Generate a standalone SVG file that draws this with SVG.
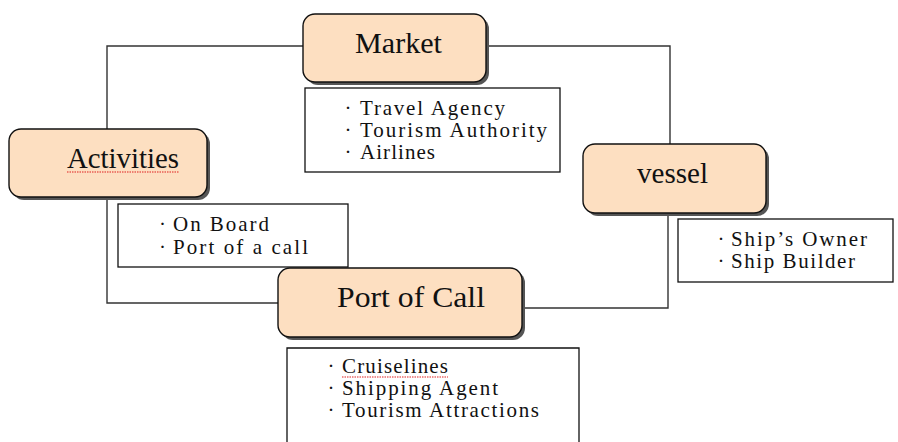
<svg xmlns="http://www.w3.org/2000/svg" width="898" height="442" viewBox="0 0 898 442">
<style>
.node{fill:#FDDFC1;stroke:#111;stroke-width:1.4}
.shadow{fill:#555}
.tbox{fill:#fff;stroke:#111;stroke-width:1.3}
.conn{fill:none;stroke:#333;stroke-width:1.4}
.title{font-family:"Liberation Serif","DejaVu Serif",serif;font-size:29px;fill:#111}
.item{font-family:"Liberation Serif","DejaVu Serif",serif;font-size:21px;fill:#111}
.spell{stroke:#e02020;stroke-width:1.2;stroke-dasharray:1.5 1;fill:none}
</style>
<rect width="898" height="442" fill="#fff"/>
<g id="connectors">
<path class="conn" d="M303 46 H107 V129"/>
<path class="conn" d="M486 46 H670 V144"/>
<path class="conn" d="M107 197 V303 H278"/>
<path class="conn" d="M668 213 V308 H522"/>
</g>
<g id="market">
<rect class="shadow" x="306" y="17" width="183" height="68" rx="12"/>
<rect class="node" x="303" y="14" width="183" height="68" rx="12"/>
<text class="title" x="355" y="53" font-size="30" textLength="87" lengthAdjust="spacingAndGlyphs">Market</text>
</g>
<g id="market-list">
<rect class="tbox" x="305" y="88" width="255" height="84"/>
<text class="item" y="115"><tspan x="344.5">·</tspan><tspan x="360" textLength="145" lengthAdjust="spacing">Travel Agency</tspan></text>
<text class="item" y="137"><tspan x="344.5">·</tspan><tspan x="360" textLength="187" lengthAdjust="spacing">Tourism Authority</tspan></text>
<text class="item" y="159"><tspan x="344.5">·</tspan><tspan x="360" textLength="75" lengthAdjust="spacing">Airlines</tspan></text>
</g>
<g id="activities">
<rect class="shadow" x="12" y="132" width="198" height="68" rx="12"/>
<rect class="node" x="9" y="129" width="198" height="68" rx="12"/>
<text class="title" x="67" y="168" textLength="112" lengthAdjust="spacingAndGlyphs">Activities</text>
<path class="spell" d="M67 172 H179"/>
</g>
<g id="activities-list">
<rect class="tbox" x="118" y="204" width="230" height="63"/>
<text class="item" y="231"><tspan x="159">·</tspan><tspan x="173" textLength="96" lengthAdjust="spacing">On Board</tspan></text>
<text class="item" y="254"><tspan x="159">·</tspan><tspan x="173" textLength="135" lengthAdjust="spacing">Port of a call</tspan></text>
</g>
<g id="vessel">
<rect class="shadow" x="586" y="147" width="183" height="69" rx="12"/>
<rect class="node" x="583" y="144" width="183" height="69" rx="12"/>
<text class="title" x="637" y="183" textLength="71" lengthAdjust="spacingAndGlyphs">vessel</text>
</g>
<g id="vessel-list">
<rect class="tbox" x="678" y="219" width="215" height="63"/>
<text class="item" y="246"><tspan x="717.5">·</tspan><tspan x="731" textLength="136" lengthAdjust="spacing">Ship’s Owner</tspan></text>
<text class="item" y="268"><tspan x="717.5">·</tspan><tspan x="731" textLength="124" lengthAdjust="spacing">Ship Builder</tspan></text>
</g>
<g id="port-of-call">
<rect class="shadow" x="281" y="271" width="244" height="69" rx="12"/>
<rect class="node" x="278" y="268" width="244" height="69" rx="12"/>
<text class="title" x="337" y="307" textLength="148" lengthAdjust="spacingAndGlyphs">Port of Call</text>
</g>
<g id="port-list">
<path class="tbox" d="M287 443 V348 H579 V443"/>
<text class="item" y="373"><tspan x="327.5">·</tspan><tspan x="342" textLength="106" lengthAdjust="spacing">Cruiselines</tspan></text>
<path class="spell" d="M342 377 H448"/>
<text class="item" y="395"><tspan x="327.5">·</tspan><tspan x="342" textLength="156" lengthAdjust="spacing">Shipping Agent</tspan></text>
<text class="item" y="417"><tspan x="327.5">·</tspan><tspan x="342" textLength="197" lengthAdjust="spacing">Tourism Attractions</tspan></text>
</g>
</svg>
